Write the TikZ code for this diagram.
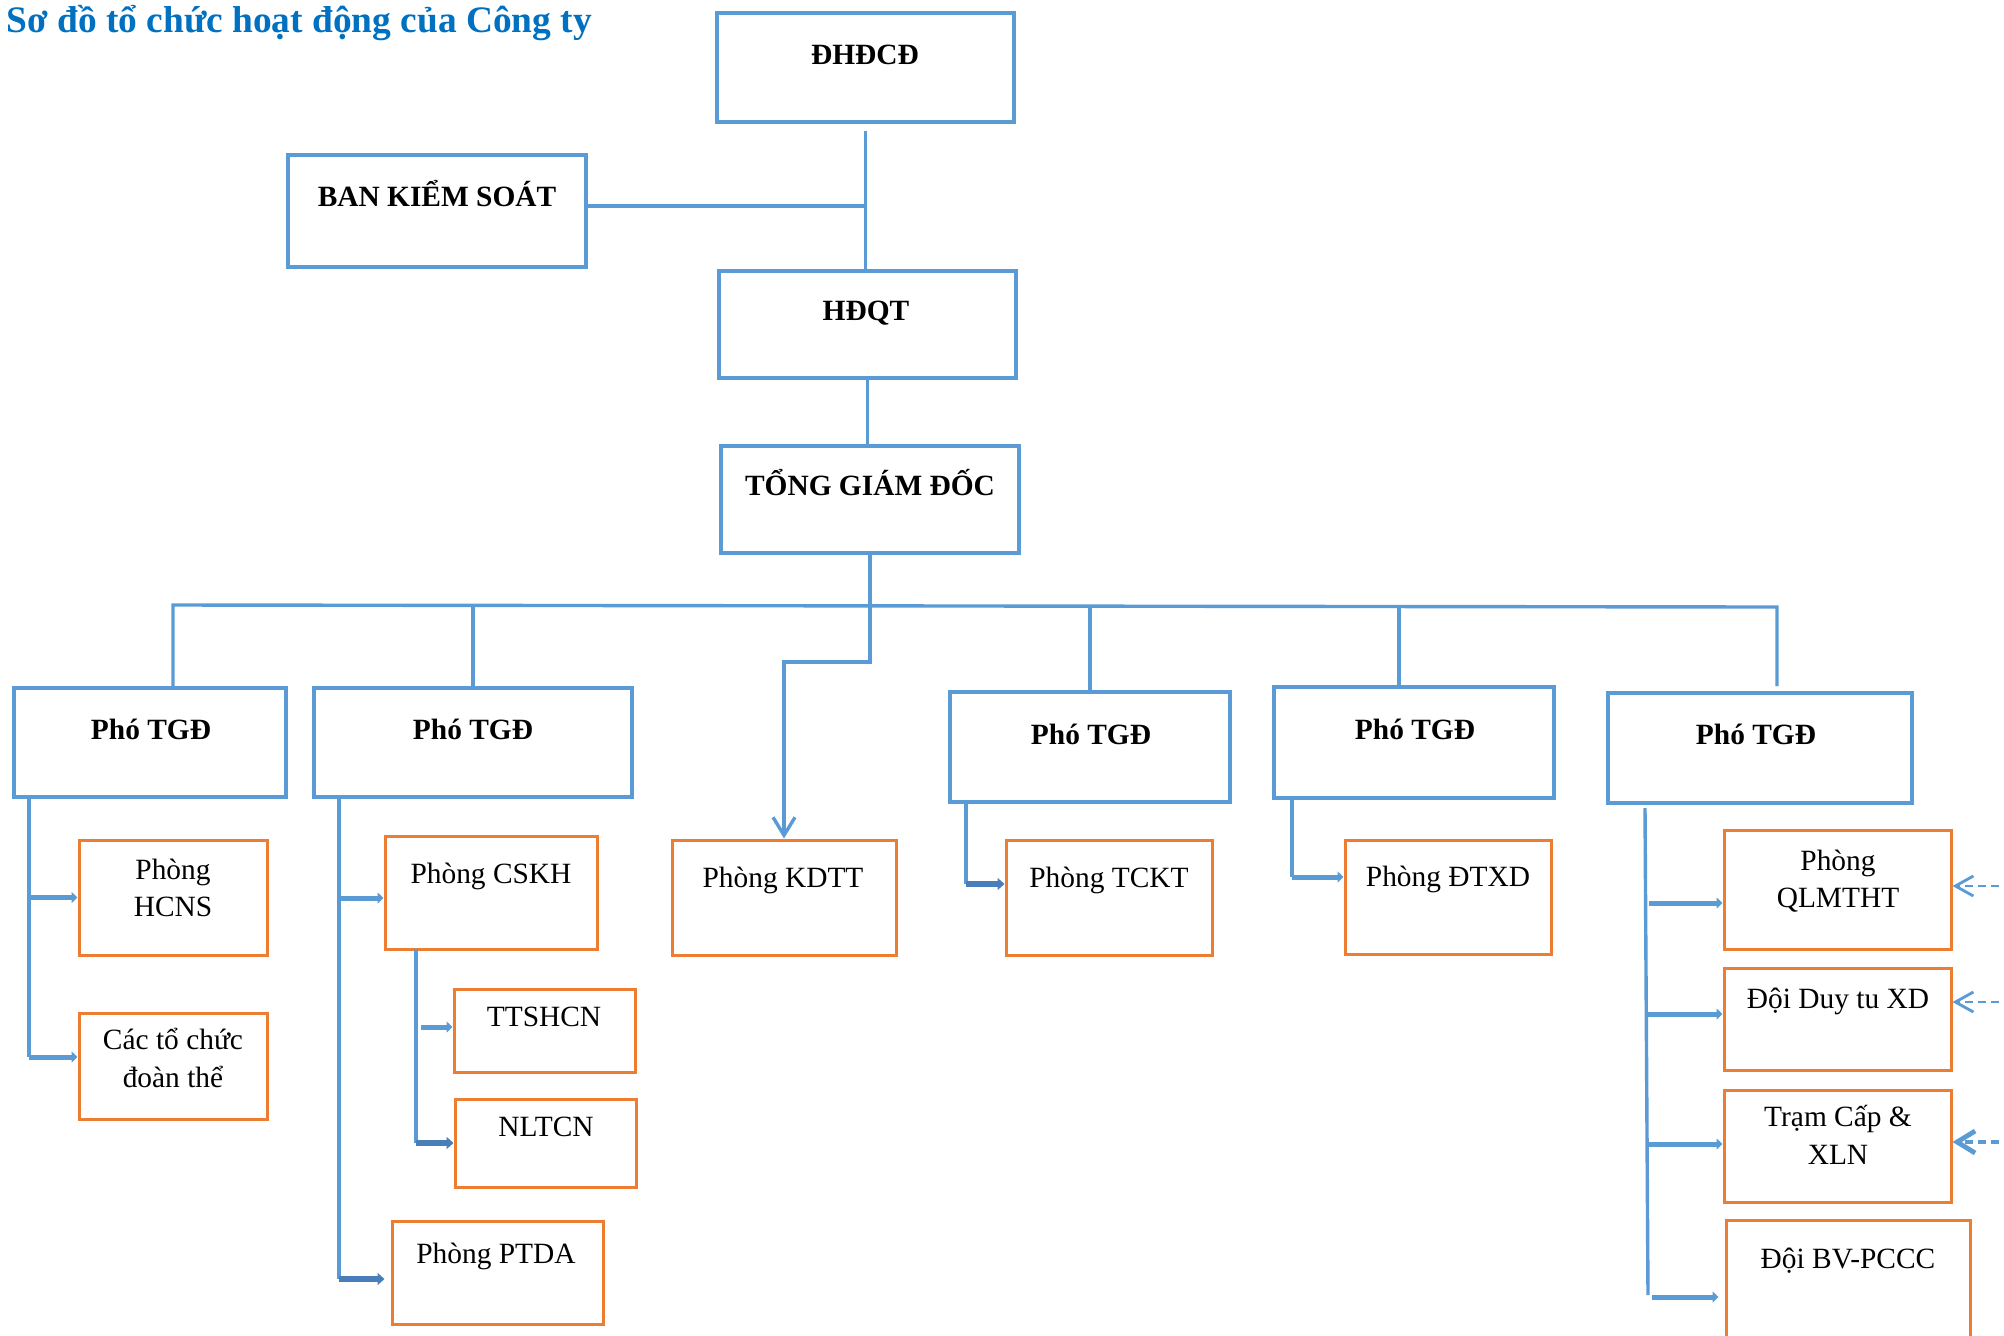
\documentclass[tikz,border=0pt]{standalone}
\usepackage{fontspec}
\setmainfont{Liberation Serif}
\usetikzlibrary{arrows.meta,calc}
\definecolor{bblue}{HTML}{5B9BD5}
\definecolor{dblue}{HTML}{4A7EBB}
\definecolor{oorange}{HTML}{ED7D31}
\definecolor{tblue}{HTML}{0070C0}
\begin{document}
\begin{tikzpicture}[x=0.5pt,y=-0.5pt,
  bbox/.style={draw=bblue, line width=2.1pt, rectangle, inner sep=0pt},
  obox/.style={draw=oorange, line width=1.5pt, rectangle, inner sep=0pt},
  conn/.style={draw=bblue, line width=1.7pt},
  barrow/.style={draw=bblue, line width=2.5pt, -{Triangle[length=3pt,width=5.5pt]}},
  barrowd/.style={draw=dblue, line width=2.7pt, -{Triangle[length=3.5pt,width=6pt]}},
  kdarrow/.style={conn, -{Straight Barb[length=9pt,width=11pt,line width=1.7pt]}},
  dasharrow/.style={draw=bblue, line width=1.4pt, dash pattern=on 4pt off 2.5pt, -{Straight Barb[length=9pt,width=10pt,line width=1.4pt]}},
  dasharrowt/.style={draw=bblue, line width=2.4pt, dash pattern=on 4pt off 2.5pt, -{Straight Barb[length=9pt,width=11pt,line width=2.4pt]}},
  hd/.style={font=\fontsize{14.7}{18.7}\selectfont\bfseries, text height=9.7pt, text depth=0pt, inner sep=0pt},
  tx/.style={font=\fontsize{14.7}{18.7}\selectfont, text height=9.65pt, text depth=0pt, inner sep=0pt},
  txx/.style={font=\fontsize{14.7}{18.7}\selectfont, align=center, inner sep=0pt},
  ttl/.style={font=\fontsize{18.7}{22}\selectfont\bfseries, text=tblue, inner sep=0pt},
]
\fill[white] (0,0) rectangle (2004,1335);
\useasboundingbox (0,0) rectangle (2004,1335);
\clip (0,0) rectangle (2004,1335);

% title
\node[ttl, anchor=base west] (title) at (6,32) {Sơ đồ tổ chức hoạt động của Công ty};

% top boxes
\node[bbox, minimum width=148.5pt, minimum height=54.5pt] (dhdcd) at (865.5,67.5) {};
\node[hd] (t-dhdcd) at (865,55) {ĐHĐCĐ};
\node[bbox, minimum width=149pt, minimum height=56pt] (bks) at (437,211) {};
\node[hd] (t-bks) at (437,197) {BAN KIỂM SOÁT};
\node[bbox, minimum width=148.5pt, minimum height=53.5pt] (hdqt) at (867.5,324.5) {};
\node[hd] (t-hdqt) at (866,311) {HĐQT};
\node[bbox, minimum width=149pt, minimum height=53.5pt] (tgd) at (870,499.5) {};
\node[hd] (t-tgd) at (870,486) {TỔNG GIÁM ĐỐC};

% deputy boxes
\node[bbox, minimum width=136pt, minimum height=54.5pt] (p1) at (150,742.5) {};
\node[hd] (t-p1) at (151,730) {Phó TGĐ};
\node[bbox, minimum width=159pt, minimum height=54.5pt] (p2) at (473,742.5) {};
\node[hd] (t-p2) at (473,730) {Phó TGĐ};
\node[bbox, minimum width=140pt, minimum height=55pt] (p3) at (1090,747) {};
\node[hd] (t-p3) at (1091,735) {Phó TGĐ};
\node[bbox, minimum width=140pt, minimum height=55.5pt] (p4) at (1414,742.5) {};
\node[hd] (t-p4) at (1415,730) {Phó TGĐ};
\node[bbox, minimum width=152pt, minimum height=55pt] (p5) at (1760,748) {};
\node[hd] (t-p5) at (1756,735) {Phó TGĐ};

% departments
\node[obox, minimum width=94pt, minimum height=57.5pt] (hcns) at (173,897.5) {};
\node[txx] (t-hcns) at (173,888) {Phòng\\HCNS};
\node[obox, minimum width=94pt, minimum height=53pt] (cac) at (173,1066) {};
\node[txx] (t-cac) at (173,1058) {Các tổ chức\\đoàn thể};
\node[obox, minimum width=106pt, minimum height=56.5pt] (cskh) at (491,892.5) {};
\node[tx] (t-cskh) at (491,874) {Phòng CSKH};
\node[obox, minimum width=90.5pt, minimum height=41.5pt] (ttsh) at (544.5,1030.5) {};
\node[tx] (t-ttsh) at (544,1017) {TTSHCN};
\node[obox, minimum width=90.5pt, minimum height=44pt] (nltcn) at (545.5,1143) {};
\node[tx] (t-nltcn) at (546,1127) {NLTCN};
\node[obox, minimum width=105.5pt, minimum height=51.5pt] (ptda) at (497.5,1272.5) {};
\node[tx] (t-ptda) at (496,1254) {Phòng PTDA};
\node[obox, minimum width=112pt, minimum height=57.5pt] (kdtt) at (784,897.5) {};
\node[tx] (t-kdtt) at (783,878) {Phòng KDTT};
\node[obox, minimum width=103pt, minimum height=57.5pt] (tckt) at (1109,897.5) {};
\node[tx] (t-tckt) at (1109,878) {Phòng TCKT};
\node[obox, minimum width=103pt, minimum height=57pt] (dtxd) at (1448,897) {};
\node[tx] (t-dtxd) at (1448,877) {Phòng ĐTXD};
\node[obox, minimum width=113.5pt, minimum height=59.5pt] (qlm) at (1837.5,889.5) {};
\node[txx] (t-qlm) at (1838,881) {Phòng\\QLMTHT};
\node[obox, minimum width=113.5pt, minimum height=51pt] (duytu) at (1837.5,1019) {};
\node[tx] (t-duytu) at (1838,999) {Đội Duy tu XD};
\node[obox, minimum width=113.5pt, minimum height=56pt] (tram) at (1837.5,1146) {};
\node[txx] (t-tram) at (1838,1135) {Trạm Cấp \&\\XLN};
\node[obox, minimum width=122pt, minimum height=90pt] (bv) at (1848,1310) {};
\node[tx] (t-bv) at (1848,1259) {Đội BV-PCCC};

% top connectors
\draw[conn] (dhdcd.south) ++(0,7) -- (dhdcd.south |- hdqt.north);
\draw[conn] ($(bks.east)+(0,-5)$) -- ($(bks.east -| dhdcd.south)+(0,-5)$);
\draw[conn] (hdqt.south) -- (hdqt.south |- tgd.north);

% bus
\coordinate (busL) at (173,605);
\coordinate (busR) at (1777,607);
\coordinate (kb) at (784,662);
\draw[conn] (busL |- p1.north) -- (busL) -- (busR) -- ++(0,79);
\draw[conn] (p2.north |- busL) -- (p2.north);
\draw[conn] (p3.north |- busL) -- (p3.north);
\draw[conn] ($(p4.north |- busL)+(-15,0)$) -- ($(p4.north)+(-15,0)$);
\draw[kdarrow] (tgd.south) |- (kb) -- (kdtt.north);

% group 1
\coordinate (g1top) at (29,797);
\coordinate (g1bot) at (29,1057);
\draw[conn] (g1top) -- (g1bot);
\draw[barrow] (g1top |- hcns.west) -- (hcns.west);
\draw[barrow] (g1bot) -- (g1bot -| cac.west);

% group 2
\coordinate (g2top) at (339,797);
\coordinate (g2bot) at (339,1279);
\coordinate (g2a) at (339,898);
\draw[conn] (g2top) -- (g2bot);
\draw[barrow] (g2a) -- (g2a -| cskh.west);
\draw[barrowd] (g2bot) -- ($(g2bot -| ptda.west)+(-6,0)$);

% CSKH sub-group
\coordinate (g3top) at (416,949);
\coordinate (g3bot) at (416,1143);
\coordinate (g3a) at (421,1027);
\draw[conn] (g3top) -- (g3bot);
\draw[barrow] (g3a) -- (g3a -| ttsh.west);
\draw[barrowd] (g3bot) -- (g3bot -| nltcn.west);

% p3, p4
\coordinate (g4) at (966,884);
\draw[conn] (p3.south -| g4) -- (g4);
\draw[barrowd] (g4) -- (g4 -| tckt.west);
\coordinate (g5) at (1292,877);
\draw[conn] (p4.south -| g5) -- (g5);
\draw[barrow] (g5) -- (g5 -| dtxd.west);

% p5 group
\coordinate (g6top) at (1645,808);
\coordinate (g6bot) at (1648,1295);
\draw[conn] (g6top) -- (g6bot);
\coordinate (a1) at (1649,903);
\coordinate (a2) at (1645,1014);
\coordinate (a3) at (1648,1144);
\coordinate (a4) at (1652,1297);
\draw[barrow] (a1) -- (a1 -| qlm.west);
\draw[barrow] (a2) -- (a2 -| duytu.west);
\draw[barrow] (a3) -- (a3 -| tram.west);
\draw[barrow] (a4) -- ($(a4 -| bv.west)+(-6,0)$);

% dashed incoming arrows
\coordinate (e1) at (2012,886);
\coordinate (e2) at (2012,1002);
\coordinate (e3) at (2012,1142);
\draw[dasharrow] (e1) -- (e1 -| qlm.east);
\draw[dasharrow] (e2) -- (e2 -| duytu.east);
\draw[dasharrowt] (e3) -- (e3 -| tram.east);
\end{tikzpicture}
\end{document}
